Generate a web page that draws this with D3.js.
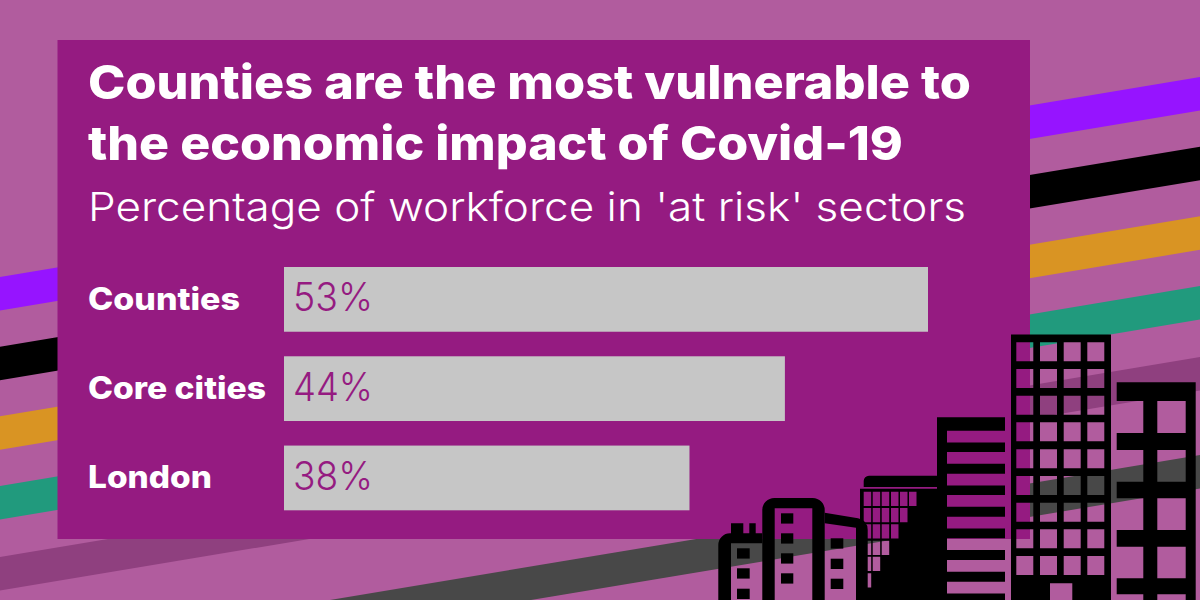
<!DOCTYPE html>
<html><head><meta charset="utf-8">
<script src="https://cdnjs.cloudflare.com/ajax/libs/d3/7.8.5/d3.min.js"></script>
<style>html,body{margin:0;padding:0;background:#b15c9e}svg{display:block}text{font-family:Inter,"Noto Sans",sans-serif}</style>
</head><body><svg id="c" width="1200" height="600"></svg>
<script>
// Data
const categories = ["Counties", "Core cities", "London"];
const values = [53, 44, 38];
const valueLabels = ["53%", "44%", "38%"];
const titleLines = ["Counties are the most vulnerable to", "the economic impact of Covid-19"];
const subtitle = "Percentage of workforce in 'at risk' sectors";

// Styling / layout
const C = {bg:"#b15c9e", panel:"#951b81", bar:"#c6c6c6"};
const svg = d3.select("#c");
svg.append("rect").attr("width",1200).attr("height",600).attr("fill",C.bg);

// Diagonal ribbons: y at x=0 for upper edge, slope -1/6
const ribbons = [[277,"#9614ff"],[346.7,"#000"],[416.3,"#d99423"],[486,"#219a7d"],[557,"#8f407f"],[655,"#484848"]];
const ribbonH = 33.5;
svg.append("g").selectAll("path").data(ribbons).join("path")
  .attr("fill",d=>d[1])
  .attr("d",d=>`M0 ${d[0]}L1200 ${d[0]-200}V${d[0]-200+ribbonH}L0 ${d[0]+ribbonH}Z`);

svg.append("rect").attr("x",57.5).attr("y",40).attr("width",972.5).attr("height",499).attr("fill",C.panel);

// Bars
const x = d3.scaleLinear().domain([12.5,53]).range([284,928]);
const y = d3.scaleBand().domain(categories).range([267,510.3]).paddingInner(0.275);
const rows = categories.map((c,i)=>({c,v:values[i],l:valueLabels[i]}));
svg.append("g").selectAll("rect").data(rows).join("rect")
  .attr("x",x(12.5)).attr("y",d=>y(d.c)).attr("width",d=>x(d.v)-x(12.5)).attr("height",y.bandwidth()).attr("fill",C.bar);

// Texts
const T = (s,xx,yy,size,weight,fill,len)=>{
  const t = svg.append("text").attr("x",xx).attr("y",yy).attr("font-size",size).attr("font-weight",weight).attr("fill",fill).text(s);
  if(len) t.attr("textLength",len).attr("lengthAdjust","spacingAndGlyphs");
  return t;
};
T(titleLines[0],88,98.5,47,800,"#fff",883);
T(titleLines[1],88,160,47,800,"#fff",815);
T(subtitle,88,221,40,300,"#fff",878);
const labelLen=[152,178,124];
const labelBase=[310,399,487.5];
const valueBase=[310.5,400.5,490];
rows.forEach((d,i)=>{
  T(d.c,88,labelBase[i],31,800,"#fff",labelLen[i]);
  T(d.l,293,valueBase[i],39,300,C.panel,80);
});

// Skyline (decorative)
const rect=(x0,y0,x1,y1)=>`M${x0} ${y0}H${x1}V${y1}H${x0}Z`;
const sky = svg.append("g").attr("fill","#000").attr("fill-rule","evenodd");
const towerRows=[342.3,369,395.7,422.3,449.3,476,502.7,529.3,556];
const towerCols=[1016.3,1040,1063.7,1087.3];
let p=rect(1011,334.5,1111,600);
towerRows.forEach(r=>towerCols.forEach(c=>p+=rect(c,r,c+17,r+19)));
p+=rect(1050,583.3,1072.3,600);
sky.append("path").attr("d",p);

const rightRows=[[401,433],[450,481.7],[498.3,530],[546.7,578.3]];
p=rect(1116.7,382.3,1195.7,600);
rightRows.forEach(r=>{p+=rect(1116.7,r[0],1143.3,r[1])+rect(1157.3,r[0],1185.7,r[1]);});
p+=rect(1116.7,594.3,1143.3,600)+rect(1157.3,594.3,1185.7,600);
sky.append("path").attr("d",p);

const stripes=[430.7,452,473.7,495,516.7,538.3,560,581.7];
p=rect(937,417.3,1005,600);
stripes.forEach(s=>p+=rect(947,s,1005,s+11.7));
sky.append("path").attr("d",p);

// stepped-grid building
const gridCols=[863.7,872.7,881.7,891,900,909];
const gridRows=[491.7,508,524.3,540.7,556.7,573.3];
p=rect(860,488.7,937,600);
gridRows.forEach((r,i)=>gridCols.slice(0,6-i).forEach(c=>p+=rect(c,r,c+7.5,r+14.2)));
sky.append("path").attr("d",p);
sky.append("path").attr("d","M863.7 487V481a5.3 5.3 0 0 1 5.3-5.3H937V487Z");

// mid-rise with wing
sky.append("path").attr("d","M824.7 512.7L858 518.3Q867.7 520.5 867.7 530V600H856V527.7L824.7 523.3Z");
sky.append("path").attr("d","M762.3 600V510a12 12 0 0 1 12-12H812.7a12 12 0 0 1 12 12V600H812.3V508.3H774.7V600Z");
[513.3,533.3,553.3,573.3].forEach(r=>sky.append("path").attr("d",rect(781,r,793.3,r+10.3)));
[538.3,558.7,578.7].forEach(r=>sky.append("path").attr("d",rect(830.7,r,843.3,r+10.3)));

// left low-rise
sky.append("path").attr("d","M718.3 600V545a11.7 11.7 0 0 1 11.7-11.7H762.3V543.3H731V600Z");
sky.append("path").attr("d",rect(731,523.3,743.3,534)+rect(749.3,523.3,755.7,534));
[548.3,568.3,588.7].forEach(r=>sky.append("path").attr("d",rect(737,r,749.7,r+10.3)));
</script></body></html>
